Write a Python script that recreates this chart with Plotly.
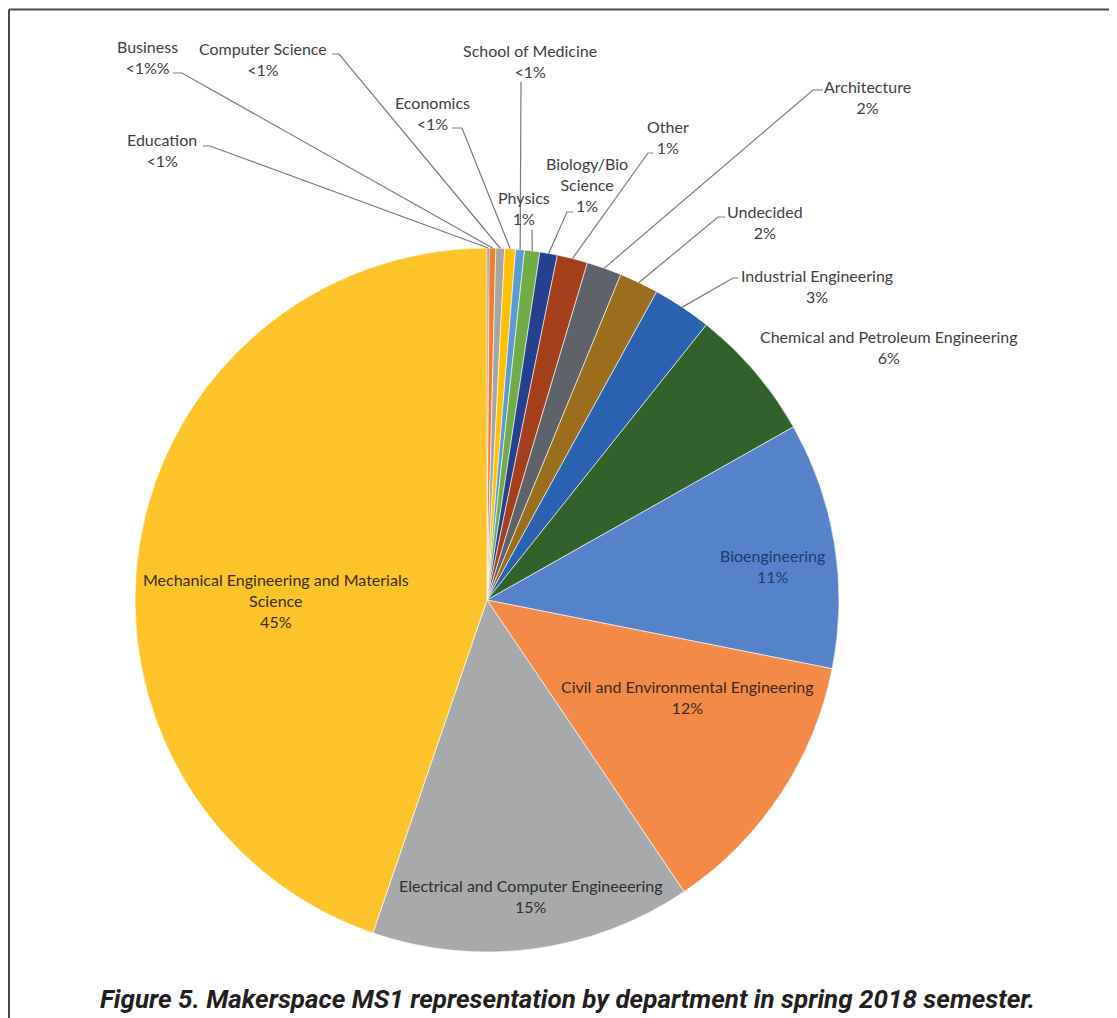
import math
import plotly.graph_objects as go

W, H = 1117, 1018
OFF = 8  # page body margin offset of the rendered figure

# ---------------- data ----------------
departments = [
    "Education", "Business", "Computer Science", "Economics", "School of Medicine",
    "Physics", "Biology/Bio Science", "Other", "Architecture", "Undecided",
    "Industrial Engineering", "Chemical and Petroleum Engineering", "Bioengineering",
    "Civil and Environmental Engineering", "Electrical and Computer Engineeering",
    "Mechanical Engineering and Materials Science",
]
shares = [0.1, 0.3, 0.4, 0.5, 0.4, 0.7, 0.8, 1.4, 1.6, 1.8, 2.7, 6.1, 11.3, 12.4, 14.7, 44.7]
pct_labels = ["&lt;1%", "&lt;1%%", "&lt;1%", "&lt;1%", "&lt;1%", "1%", "1%", "1%", "2%", "2%",
              "3%", "6%", "11%", "12%", "15%", "45%"]
display_names = [
    "Education", "Business", "Computer Science", "Economics", "School of Medicine",
    "Physics", "Biology/Bio<br>Science", "Other", "Architecture", "Undecided",
    "Industrial Engineering", "Chemical and Petroleum Engineering", "Bioengineering",
    "Civil and Environmental Engineering", "Electrical and Computer Engineeering",
    "Mechanical Engineering and Materials<br>Science",
]
caption = "Figure 5. Makerspace MS1 representation by department in spring 2018 semester."

# ---------------- styles ----------------
colors = ["#766a98", "#ED7D31", "#A5A5A5", "#FFC000", "#5B9BD5", "#70AD47", "#25408F",
          "#A33F1A", "#5F6268", "#9B6E1E", "#2A62B0", "#31622C", "#5682C9", "#F48A48",
          "#A7A9AB", "#FDC32A"]
text_colors = ["#404040"] * 12 + ["#1F3A6E", "#3A2A1C", "#2E2E2E", "#3A3010"]

# label block centres (pixels) and leader line start/elbow (pixels, None = no leader)
label_pos = [(162, 150), (147, 57), (263, 59), (432, 113), (530, 61), (524, 208),
             (587, 184), (668, 137), (867, 97), (765, 222), (817, 286), (889, 347),
             (772, 566), (687, 697), (531, 896), (276, 600)]
leader = [((203, 146), (210, 146)), ((173, 73), (182, 73)), ((332, 54), (339, 54)),
          ((452, 128), (462, 128)), ((521, 82), (521, 82)), ((532, 230), (532, 230)),
          ((573, 212), (567, 212)), ((653, 153), (648, 153)), ((823, 90), (813, 90)),
          ((725, 217), (718, 217)), ((738, 278), (733, 278)),
          None, None, None, None, None]

CX, CY, R = 487, 600, 352


def px(x):
    return (x - OFF) / W


def py(y):
    return 1 - (y - OFF) / H


fig = go.Figure()
fig.add_trace(go.Pie(
    labels=departments, values=shares, sort=False, direction="clockwise", rotation=0,
    marker=dict(colors=colors, line=dict(color="white", width=0.6)),
    textinfo="none", hoverinfo="label+percent", showlegend=False,
    domain=dict(x=[px(CX - R), px(CX + R)], y=[py(CY + R), py(CY - R)]),
))

total = sum(shares)
cum = 0.0
shapes = []
annotations = []
for i, v in enumerate(shares):
    mid = (cum + v / 2) / total * 2 * math.pi
    cum += v
    ex = CX + R * math.sin(mid)
    ey = CY - R * math.cos(mid)
    lx, ly = label_pos[i]
    annotations.append(dict(
        x=px(lx), y=py(ly), xref="paper", yref="paper", showarrow=False,
        text=display_names[i] + "<br>" + pct_labels[i],
        xanchor="center", yanchor="middle", align="center",
        font=dict(family="Lato", size=16, color=text_colors[i]),
    ))
    if leader[i] is not None:
        (sx, sy), (bx, by) = leader[i]
        shapes.append(dict(
            type="path", xref="paper", yref="paper",
            path=f"M {px(sx)},{py(sy)} L {px(bx)},{py(by)} L {px(ex)},{py(ey)}",
            line=dict(color="#7a7a7a", width=1.2),
        ))

# frame lines (top and left)
shapes.append(dict(type="line", xref="paper", yref="paper", x0=px(9), x1=1, y0=py(9.5), y1=py(9.5),
                   line=dict(color="#4a4a4a", width=2)))
shapes.append(dict(type="line", xref="paper", yref="paper", x0=px(9), x1=px(9), y0=py(9.5), y1=0,
                   line=dict(color="#4a4a4a", width=2)))

annotations.append(dict(
    x=px(567), y=py(999), xref="paper", yref="paper", showarrow=False,
    text="<b><i>" + caption + "</i></b>", xanchor="center", yanchor="middle",
    font=dict(family="Roboto", size=26, color="#231F20"),
))

fig.update_layout(
    width=W, height=H, margin=dict(l=0, r=0, t=0, b=0),
    paper_bgcolor="white", plot_bgcolor="white",
    shapes=shapes, annotations=annotations,
)
fig.write_html("out.html")
